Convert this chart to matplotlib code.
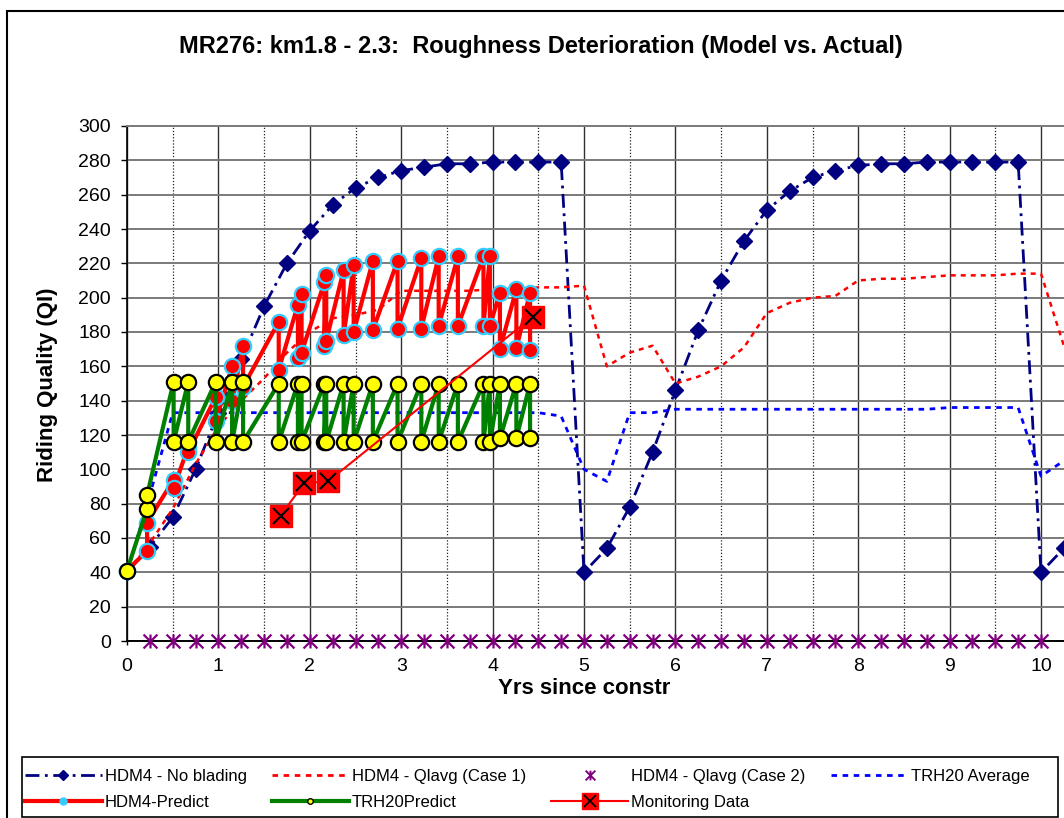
import matplotlib
matplotlib.use('Agg')
import matplotlib.pyplot as plt
from matplotlib.lines import Line2D
from matplotlib.path import Path
from matplotlib.patches import Rectangle
from matplotlib.ticker import MultipleLocator
from matplotlib.legend_handler import HandlerTuple

plt.rcParams['font.family'] = ['Liberation Sans', 'DejaVu Sans']

# ---------------- data ----------------
quarters = [0, 0.25, 0.5, 0.75, 1, 1.25, 1.5, 1.75, 2, 2.25, 2.5, 2.75, 3, 3.25, 3.5, 3.75,
            4, 4.25, 4.5, 4.75, 5, 5.25, 5.5, 5.75, 6, 6.25, 6.5, 6.75, 7, 7.25, 7.5, 7.75,
            8, 8.25, 8.5, 8.75, 9, 9.25, 9.5, 9.75, 10, 10.25]

no_blading = [40, 55, 72, 100, 133, 164, 195, 220, 239, 254, 264, 270, 274, 276, 278, 278,
              279, 279, 279, 279, 40, 54, 78, 110, 146, 181, 210, 233, 251, 262, 270, 274,
              277, 278, 278, 279, 279, 279, 279, 279, 40, 54]

qlavg_case1 = [40, 57, 77, 103, 125, 140, 153, 168, 180, 188, 190, 193, 204, 204, 204, 204,
               205, 205, 206, 206, 207, 160, 168, 172, 150, 154, 160, 171, 191, 197, 200, 201,
               210, 211, 211, 212, 213, 213, 213, 214, 214, 172]

case2_years = [0.25, 0.5, 0.75, 1, 1.25, 1.5, 1.75, 2, 2.25, 2.5, 2.75, 3, 3.25, 3.5, 3.75,
               4, 4.25, 4.5, 4.75, 5, 5.25, 5.5, 5.75, 6, 6.25, 6.5, 6.75, 7, 7.25, 7.5, 7.75,
               8, 8.25, 8.5, 8.75, 9, 9.25, 9.5, 9.75, 10]
qlavg_case2 = [0, 0, 0, 0, 0, 0, 0, 0, 0, 0, 0, 0, 0, 0, 0, 0, 0, 0, 0, 0,
               0, 0, 0, 0, 0, 0, 0, 0, 0, 0, 0, 0, 0, 0, 0, 0, 0, 0, 0, 0]

trh20_average = [40, 85, 133, 133, 133, 133, 133, 133, 133, 133, 133, 133, 133, 133, 133, 133,
                 133, 133, 133, 131, 100, 93, 133, 133, 135, 135, 135, 135, 135, 135, 135, 135,
                 135, 135, 135, 135, 136, 136, 136, 136, 96, 105]

predict_years = [0, 0.22, 0.22, 0.51, 0.51, 0.67, 0.67, 0.97, 0.97, 1.15, 1.15, 1.27, 1.27,
                 1.66, 1.66, 1.87, 1.87, 1.91, 1.91, 2.16, 2.16, 2.18, 2.18, 2.37, 2.37,
                 2.48, 2.48, 2.69, 2.69, 2.96, 2.96, 3.22, 3.22, 3.41, 3.41, 3.62, 3.62,
                 3.90, 3.90, 3.97, 3.97, 4.08, 4.08, 4.26, 4.26, 4.41, 4.41]

hdm4_predict = [41, 52.6, 69, 94, 89, 113, 110, 142, 128, 160, 140, 172, 148,
                186, 158, 196, 165, 202, 168, 209, 172, 213, 175, 216, 178,
                219, 180, 221.5, 181, 221.5, 182, 223, 182, 224, 183.5, 224, 183.5,
                224, 183.5, 224, 183.5, 203, 170, 205, 170.5, 203, 169.5]

trh20_predict = [41, 77, 85, 151, 116, 151, 116, 151, 116, 151, 116, 151, 116,
                 150, 116, 150, 116, 150, 116, 150, 116, 150, 116, 150, 116,
                 150, 116, 150, 116, 150, 116, 150, 116, 150, 116, 150, 116,
                 150, 116, 150, 116, 150, 118, 150, 118, 150, 118]

monitor_years = [1.68, 1.94, 2.20, 4.44]
monitor_values = [73, 92, 93, 189]

y_ticks = [0, 20, 40, 60, 80, 100, 120, 140, 160, 180, 200, 220, 240, 260, 280, 300]
x_ticks = [0, 1, 2, 3, 4, 5, 6, 7, 8, 9, 10]

labels = ["HDM4 - No blading", "HDM4 - Qlavg (Case 1)", "HDM4 - Qlavg (Case 2)",
          "TRH20 Average", "HDM4-Predict", "TRH20Predict", "Monitoring Data"]

# ---------------- styles ----------------
NAVY = '#000080'
PURPLE = '#800080'
CYAN = '#33CCFF'
GREEN = '#008000'

star = Path([(-1, -1), (1, 1), (-1, 1), (1, -1), (0, -1), (0, 1)],
            [Path.MOVETO, Path.LINETO, Path.MOVETO, Path.LINETO, Path.MOVETO, Path.LINETO])

W, H = 1064, 818
fig = plt.figure(figsize=(W / 100, H / 100), dpi=100)
ax = fig.add_axes([127 / W, 1 - 641 / H, (W - 127) / W, (641 - 126) / H])
ax.set_xlim(0, (W - 127) / 91.4)
ax.set_ylim(0, 300)

# grid
ax.xaxis.set_major_locator(MultipleLocator(1))
ax.xaxis.set_minor_locator(MultipleLocator(0.5))
ax.set_xticks(x_ticks)
ax.set_yticks(y_ticks)
ax.grid(which='major', axis='x', color='#303030', lw=1.0, ls='-')
ax.grid(which='minor', axis='x', color='#202020', lw=0.9, ls=(0, (1, 1.5)))
ax.grid(which='major', axis='y', color='#7a7a7a', lw=1.4, ls='-')
ax.set_axisbelow(True)

ax.spines['right'].set_visible(False)
ax.spines['top'].set_color('#7a7a7a')
ax.spines['top'].set_linewidth(1.4)
ax.spines['left'].set_color('black')
ax.spines['left'].set_linewidth(1.2)
ax.spines['bottom'].set_color('black')
ax.spines['bottom'].set_linewidth(1.4)

ax.tick_params(axis='y', direction='out', length=4.5, width=1, pad=7, labelsize=14)
ax.tick_params(axis='x', which='major', direction='out', length=3, width=1, pad=9, labelsize=14)
ax.tick_params(axis='x', which='minor', length=0)

# series (Excel drawing order)
ax.plot(quarters, no_blading, color=NAVY, lw=2, dashes=(5, 2, 1, 2), marker='D', ms=8,
        mfc=NAVY, mec=NAVY, clip_on=False, zorder=3)
ax.plot(quarters, qlavg_case1, color='red', lw=1.8, dashes=(2, 2), clip_on=False, zorder=3)
ax.plot(case2_years, qlavg_case2, ls='none', marker=star, ms=10, mew=1.6, color=PURPLE,
        clip_on=False, zorder=4)
ax.plot(quarters, trh20_average, color='blue', lw=2, dashes=(2, 2), clip_on=False, zorder=3)
ax.plot(predict_years, hdm4_predict, color='red', lw=3, marker='o', ms=11, mfc='red',
        mec=CYAN, mew=1.6, clip_on=False, zorder=5)
ax.plot(predict_years, trh20_predict, color=GREEN, lw=3, marker='o', ms=11, mfc='yellow',
        mec='black', mew=1.6, clip_on=False, zorder=6)
ax.plot(monitor_years, monitor_values, color='red', lw=1.5, marker='s', ms=16, mfc='red',
        mec='red', clip_on=False, zorder=7)
ax.plot(monitor_years, monitor_values, ls='none', marker='x', ms=12, mew=1.5, color='black',
        clip_on=False, zorder=8)

# texts
fig.text(541 / W, 1 - 47 / H, "MR276: km1.8 - 2.3:  Roughness Deterioration (Model vs. Actual)",
         ha='center', va='center', fontsize=17, fontweight='bold')
fig.text(584 / W, 1 - 688 / H, "Yrs since constr", ha='center', va='center',
         fontsize=16, fontweight='bold')
fig.text(48 / W, 1 - 385 / H, "Riding Quality (QI)", ha='center', va='center',
         rotation=90, fontsize=16, fontweight='bold')

# chart border
fig.patches.append(Rectangle((7 / W, -0.02), 1.1, (H - 11) / H + 0.02, transform=fig.transFigure,
                             fill=False, edgecolor='black', lw=1.5))
# legend frame
fig.patches.append(Rectangle((22 / W, 1 - 817 / H), (1058 - 22) / W, (817 - 757) / H,
                             transform=fig.transFigure, fill=False, edgecolor='black', lw=1.2))

# legend
h1 = Line2D([], [], color=NAVY, lw=2, dashes=(5, 2, 1, 2), marker='D', ms=5)
h2 = Line2D([], [], color='red', lw=2, dashes=(2, 2))
h3 = Line2D([], [], ls='none', marker=star, ms=7, mew=1.4, color=PURPLE)
h4 = Line2D([], [], color='blue', lw=2, dashes=(2, 2))
h5 = Line2D([], [], color='red', lw=3, marker='o', ms=5, mfc=CYAN, mec=CYAN)
h6 = Line2D([], [], color=GREEN, lw=3, marker='o', ms=4, mfc='yellow', mec='black')
h7a = Line2D([], [], color='red', lw=1.5, marker='s', ms=12, mfc='red', mec='red')
h7b = Line2D([], [], ls='none', marker='x', ms=9, mew=1.3, color='black')

handles = [h1, h5, h2, h6, h3, (h7a, h7b), h4]
leg_labels = [labels[0], labels[4], labels[1], labels[5], labels[2], labels[6], labels[3]]
leg = fig.legend(handles, leg_labels, ncol=4, loc='upper left',
                 bbox_to_anchor=(20 / W, 1 - 764 / H),
                 borderaxespad=0, fontsize=12, handlelength=4.6,
                 handletextpad=0.2, labelspacing=0.65, borderpad=0.3,
                 columnspacing=1.5, frameon=False,
                 handler_map={tuple: HandlerTuple(ndivide=1)})

fig.savefig('out.png', dpi=100)
